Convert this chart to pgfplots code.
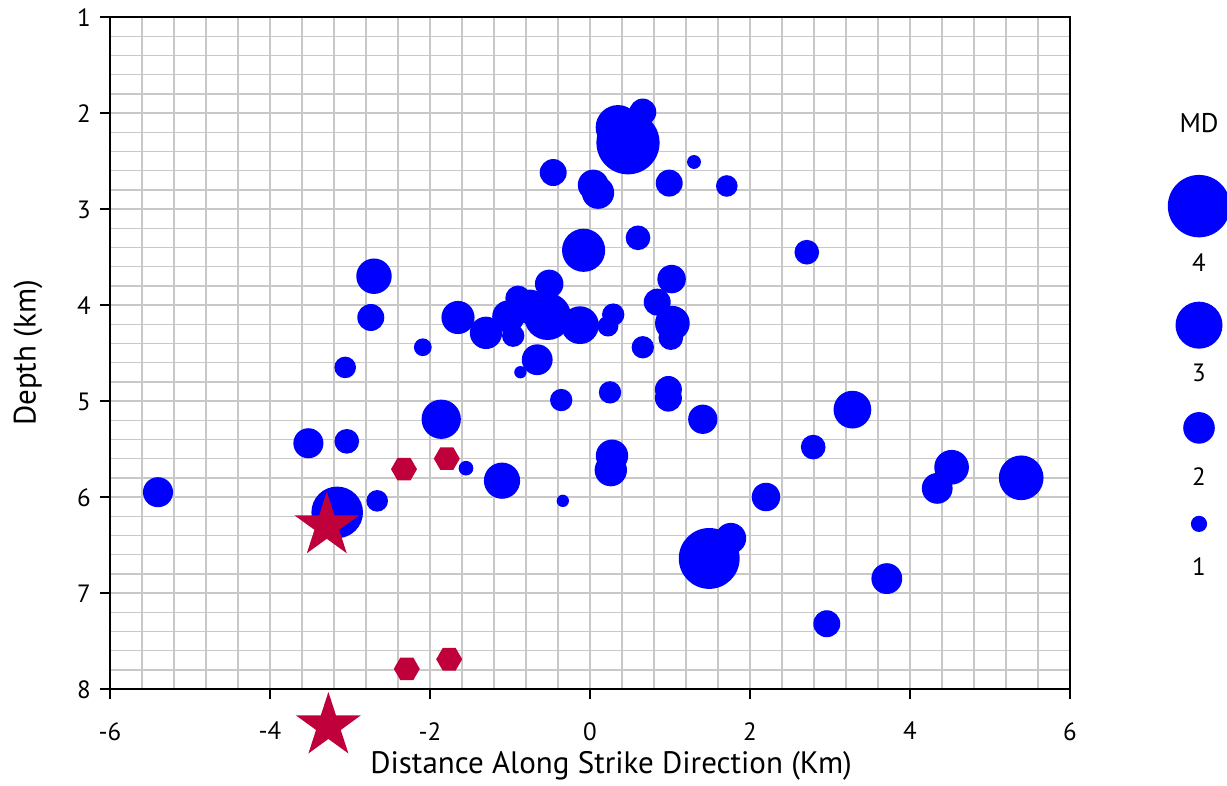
\documentclass[border=0pt]{standalone}
\usepackage{fontspec}
\setmainfont{PT Sans}
\usepackage{pgfplots}
\pgfplotsset{compat=1.18}
\definecolor{gridgray}{RGB}{200,200,200}
\definecolor{myred}{RGB}{192,0,58}
\definecolor{myblue}{RGB}{0,0,255}
\pgfdeclareplotmark{fstar}{%
  \pgfpathmoveto{\pgfpointpolar{90}{\pgfplotmarksize}}%
  \pgfpathlineto{\pgfpointpolar{126}{0.382\pgfplotmarksize}}%
  \pgfpathlineto{\pgfpointpolar{162}{\pgfplotmarksize}}%
  \pgfpathlineto{\pgfpointpolar{198}{0.382\pgfplotmarksize}}%
  \pgfpathlineto{\pgfpointpolar{234}{\pgfplotmarksize}}%
  \pgfpathlineto{\pgfpointpolar{270}{0.382\pgfplotmarksize}}%
  \pgfpathlineto{\pgfpointpolar{306}{\pgfplotmarksize}}%
  \pgfpathlineto{\pgfpointpolar{342}{0.382\pgfplotmarksize}}%
  \pgfpathlineto{\pgfpointpolar{18}{\pgfplotmarksize}}%
  \pgfpathlineto{\pgfpointpolar{54}{0.382\pgfplotmarksize}}%
  \pgfpathclose\pgfusepathqfill}
\pgfdeclareplotmark{hexa}{%
  \pgfpathmoveto{\pgfpointpolar{0}{\pgfplotmarksize}}%
  \pgfpathlineto{\pgfpointpolar{60}{\pgfplotmarksize}}%
  \pgfpathlineto{\pgfpointpolar{120}{\pgfplotmarksize}}%
  \pgfpathlineto{\pgfpointpolar{180}{\pgfplotmarksize}}%
  \pgfpathlineto{\pgfpointpolar{240}{\pgfplotmarksize}}%
  \pgfpathlineto{\pgfpointpolar{300}{\pgfplotmarksize}}%
  \pgfpathclose\pgfusepathqfill}
\pgfdeclareplotmark{fdisc}{%
  \pgfpathcircle{\pgfpointorigin}{\pgfplotmarksize}%
  \pgfusepathqfill}
\begin{document}
\begin{tikzpicture}
\begin{axis}[
  scale only axis, width=960pt, height=672pt,
  xmin=-6, xmax=6, ymin=1, ymax=8, y dir=reverse,
  xtick={-6,-4,-2,0,2,4,6}, xticklabels={-6,-4,-2,0,2,4,6},
  ytick={1,2,3,4,5,6,7,8}, yticklabels={},
  minor x tick num=4, minor y tick num=4,
  grid=both,
  major grid style={draw=gridgray, line width=1.4pt},
  minor grid style={draw=gridgray, line width=1.4pt},
  tick align=outside, tick pos=left,
  major tick length=10pt, minor tick length=0pt,
  tick style={black, line width=1.6pt},
  axis line style={black, line width=1.8pt},
  ticklabel style={font=\fontsize{25}{30}\selectfont, inner sep=0pt},
  xticklabel style={anchor=north},
  xticklabel shift=23pt,
  clip=false,
]
\addplot[scatter, only marks, mark=fdisc,
  scatter/use mapped color={draw=myblue, fill=myblue},
  visualization depends on={7.7*\thisrow{md}+0.4 \as \rad},
  scatter/@pre marker code/.append style={/tikz/mark size=\rad pt}]
  table[x=x, y=y] {
x y md
-5.40 5.95 1.9
-3.52 5.44 1.9
-3.04 5.42 1.55
-3.06 4.65 1.35
-2.70 3.70 2.25
-2.74 4.13 1.7
-2.66 6.04 1.35
-3.16 6.16 3.3
-2.09 4.44 1.1
-1.86 5.19 2.5
-1.55 5.70 0.9
-1.10 5.83 2.3
-1.65 4.13 2.1
-1.30 4.29 2.05
-0.96 4.32 1.4
-0.87 4.70 0.75
-0.66 4.57 1.95
-0.36 4.99 1.4
-0.34 6.04 0.75
-0.46 2.62 1.7
-0.08 3.43 2.75
0.04 2.75 1.95
0.10 2.83 2.05
0.475 2.31 4.05
0.35 2.15 2.85
0.66 1.99 1.7
0.99 2.73 1.7
1.30 2.51 0.85
1.71 2.76 1.35
0.60 3.30 1.55
1.02 3.73 1.8
0.84 3.97 1.7
1.03 4.19 2.2
1.01 4.34 1.55
0.66 4.44 1.4
0.29 4.10 1.4
0.225 4.22 1.3
-0.125 4.21 2.4
-0.51 3.78 1.8
-0.90 3.93 1.6
-0.53 4.12 3.0
-1.02 4.12 2.05
-0.75 4.02 2.2
0.25 4.91 1.4
0.98 4.88 1.7
0.98 4.97 1.7
1.41 5.19 1.85
3.28 5.09 2.4
2.79 5.48 1.55
0.275 5.57 2.05
0.26 5.72 2.05
2.20 6.00 1.8
1.49 6.64 3.9
1.76 6.43 1.95
3.71 6.85 1.95
2.96 7.32 1.7
2.71 3.45 1.55
4.52 5.69 2.2
4.34 5.91 1.95
5.39 5.80 2.85
};
% legend circles
\addplot[scatter, only marks, mark=fdisc,
  scatter/use mapped color={draw=myblue, fill=myblue},
  visualization depends on={7.7*\thisrow{md}+0.4 \as \rad},
  scatter/@pre marker code/.append style={/tikz/mark size=\rad pt}]
  table[x=x, y=y] {
x y md
7.6125 2.97 4
7.6125 4.21 3
7.6125 5.28 2
7.6125 6.28 1
};
\addplot[only marks, mark=hexa, mark size=13pt, color=myred]
  coordinates {(-2.325,5.71) (-1.79,5.60) (-2.29,7.79) (-1.76,7.69)};
\addplot[only marks, mark=fstar, mark size=34pt, color=myred]
  coordinates {(-3.29,6.30) (-3.27,8.385)};
% y tick labels
\pgfplotsinvokeforeach{1,2,3,4,5,6,7,8}{
  \node[anchor=east, inner sep=0pt, font=\fontsize{25}{30}\selectfont,
        xshift=-19pt, yshift=-1pt] at (axis cs:-6,#1) {#1};
}
\node[font=\fontsize{27}{32}\selectfont] at (axis cs:7.6125,2.104) {MD};
\node[font=\fontsize{25}{30}\selectfont] at (axis cs:7.6125,3.5625) {4};
\node[font=\fontsize{25}{30}\selectfont] at (axis cs:7.6125,4.708) {3};
\node[font=\fontsize{25}{30}\selectfont] at (axis cs:7.6125,5.79) {2};
\node[font=\fontsize{25}{30}\selectfont] at (axis cs:7.6125,6.72) {1};
\node[font=\fontsize{31}{37}\selectfont] at (axis description cs:0.522,-0.1146) {Distance Along Strike Direction (Km)};
\node[font=\fontsize{31}{37}\selectfont, rotate=90] at (axis description cs:-0.0854,0.5) {Depth (km)};
\end{axis}
\pgfresetboundingbox
\path (current axis.south west) ++(-110pt,-96pt) rectangle ++(1227pt,785pt);
\end{tikzpicture}
\end{document}
